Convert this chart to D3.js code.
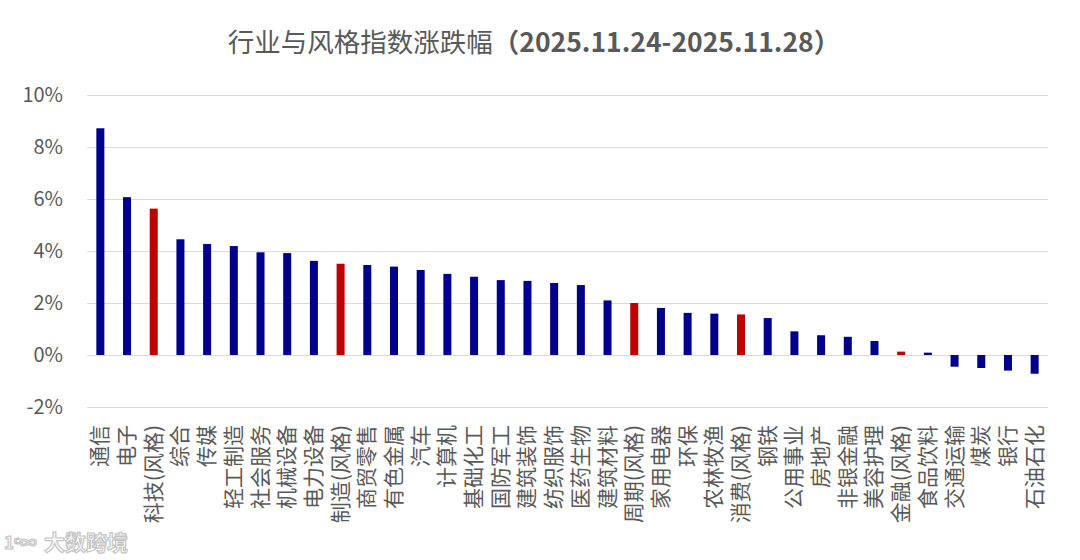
<!DOCTYPE html>
<html><head><meta charset="utf-8">
<script src="https://cdn.jsdelivr.net/npm/d3@7/dist/d3.min.js"></script>
<style>
html,body{margin:0;padding:0;background:#fff;}
svg{display:block;}
</style></head>
<body>
<svg id="chart" width="1080" height="560"></svg>
<script>
const categories = ["通信","电子","科技(风格)","综合","传媒","轻工制造","社会服务","机械设备","电力设备","制造(风格)","商贸零售","有色金属","汽车","计算机","基础化工","国防军工","建筑装饰","纺织服饰","医药生物","建筑材料","周期(风格)","家用电器","环保","农林牧渔","消费(风格)","钢铁","公用事业","房地产","非银金融","美容护理","金融(风格)","食品饮料","交通运输","煤炭","银行","石油石化"];
const values = [8.72,6.07,5.63,4.45,4.27,4.19,3.95,3.92,3.62,3.51,3.46,3.40,3.27,3.12,3.01,2.88,2.85,2.77,2.69,2.10,2.00,1.81,1.62,1.59,1.56,1.42,0.91,0.76,0.70,0.54,0.13,0.09,-0.45,-0.50,-0.60,-0.72];
const yTicks = [-2,0,2,4,6,8,10];
const titleMain = "行业与风格指数涨跌幅";
const titleDate = "（2025.11.24-2025.11.28）";

const svg = d3.select("#chart");
const plotL = 87, plotR = 1048, plotT = 95, plotB = 407;
const x = d3.scaleBand().domain(categories).range([plotL, plotR]).paddingInner(0.7).paddingOuter(0.35);
const y = d3.scaleLinear().domain([-2, 10]).range([plotB, plotT]);
const font = "'Noto Sans CJK SC','Noto Sans',sans-serif";

// gridlines
svg.append("g").selectAll("line").data(yTicks).join("line")
  .attr("x1", plotL).attr("x2", plotR)
  .attr("y1", d => Math.round(y(d)) + 0.5).attr("y2", d => Math.round(y(d)) + 0.5)
  .attr("stroke", "#d9d9d9").attr("stroke-width", 1.2);

// y axis labels
const yAxis = d3.axisLeft(y).tickValues(yTicks).tickFormat(d => d + "%").tickSize(0).tickPadding(0);
const ya = svg.append("g").attr("transform", `translate(63,0)`).call(yAxis);
ya.select(".domain").remove();
ya.selectAll("text").attr("font-family", font).attr("font-size", 20).attr("fill", "#595959");

// bars
const isStyle = c => c.indexOf("(风格)") >= 0;
svg.append("g").selectAll("rect").data(categories).join("rect")
  .attr("x", d => x(d))
  .attr("width", x.bandwidth())
  .attr("y", (d, i) => y(Math.max(0, values[i])))
  .attr("height", (d, i) => Math.max(1, Math.abs(y(values[i]) - y(0))))
  .attr("fill", d => isStyle(d) ? "#c00000" : "#00008b");

// category labels (rotated)
svg.append("g").selectAll("text").data(categories).join("text")
  .attr("transform", d => `translate(${x(d) + x.bandwidth() / 2 + 7},425) rotate(-90)`)
  .attr("text-anchor", "end")
  .attr("font-family", font).attr("font-size", 21).attr("fill", "#595959")
  .text(d => d);

// title
const t = svg.append("text").attr("x", 534).attr("y", 52).attr("text-anchor", "middle")
  .attr("font-family", font).attr("font-size", 26.5).attr("fill", "#595959");
t.append("tspan").text(titleMain);
t.append("tspan").attr("font-weight", "bold").text(titleDate);

// watermark
const wm = svg.append("g").attr("fill", "#ffffff").attr("stroke", "#c4c4c4").attr("stroke-width", 1.2)
  .attr("font-family", font).attr("font-weight", "bold");
wm.append("text").attr("x", 4).attr("y", 549).attr("font-size", 17).text("1ᶜ∞");
wm.append("text").attr("x", 44).attr("y", 550).attr("font-size", 21).text("大数跨境");
</script>
</body></html>
